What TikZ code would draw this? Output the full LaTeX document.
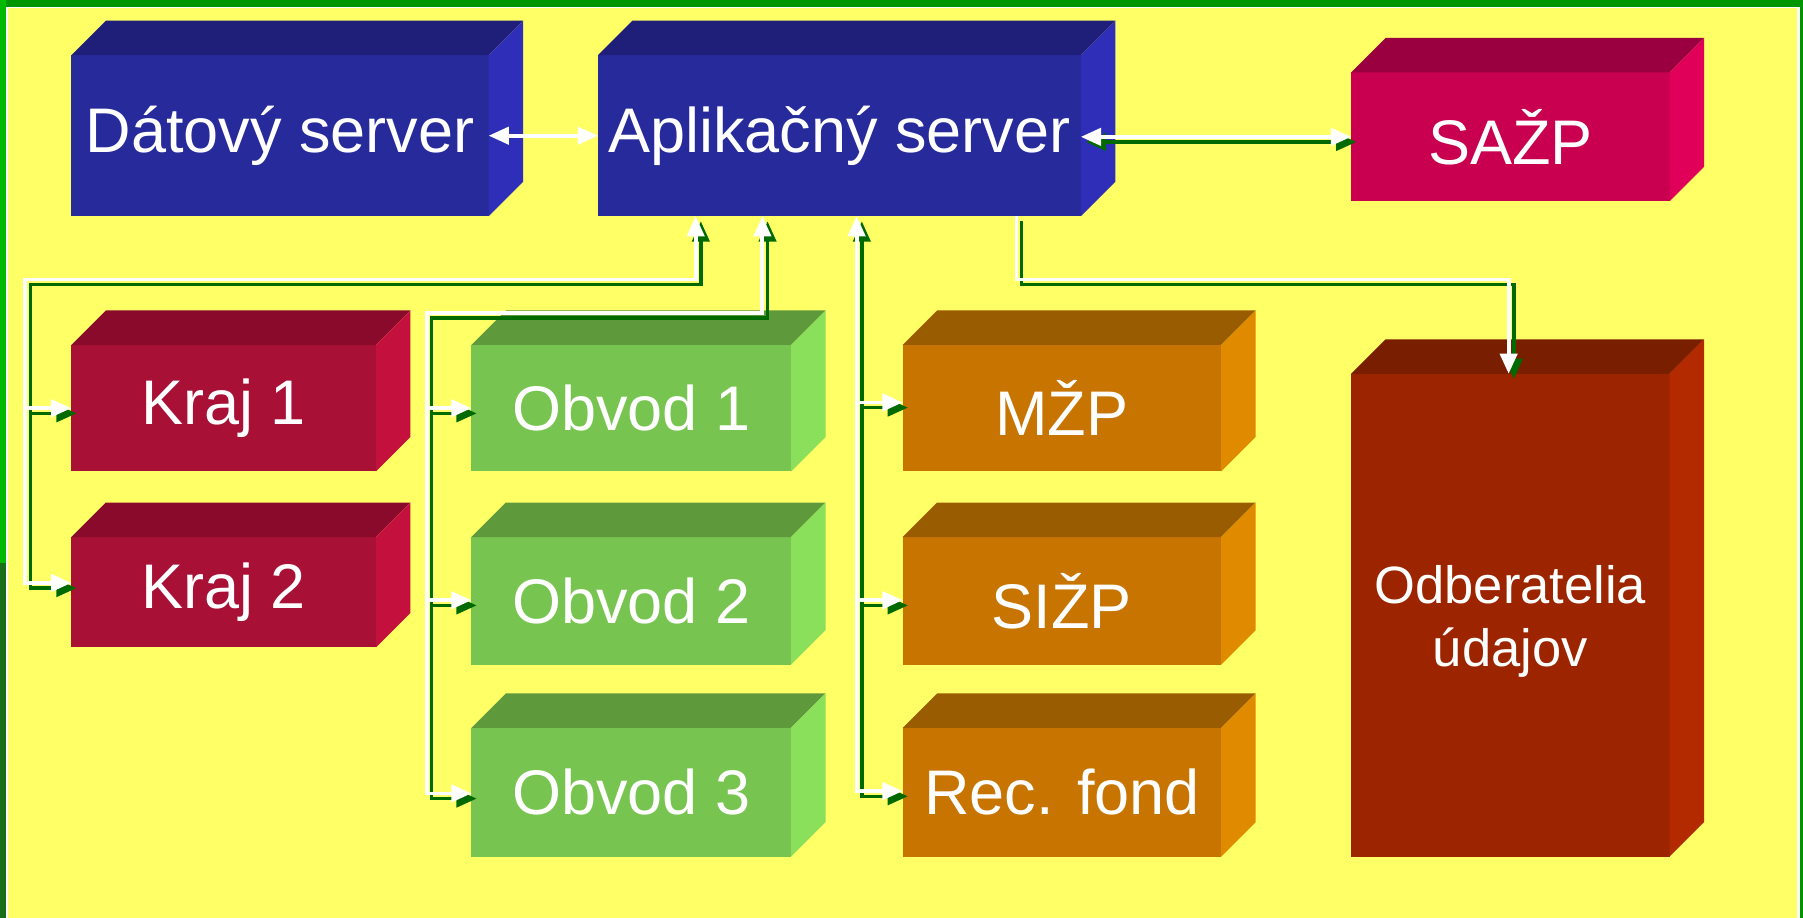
\documentclass[tikz,border=0pt]{standalone}
\usepackage{fontspec}
\setmainfont{Liberation Sans}
\usetikzlibrary{arrows.meta}

\definecolor{paper}{RGB}{255,255,102}
\definecolor{frameA}{RGB}{0,150,0}
\definecolor{frameB}{RGB}{0,185,0}
\definecolor{frameC}{RGB}{25,110,25}
\definecolor{wiregreen}{RGB}{0,105,0}

\definecolor{blueF}{RGB}{38,42,154}
\definecolor{blueT}{RGB}{31,31,122}
\definecolor{blueS}{RGB}{46,46,184}
\definecolor{krajF}{RGB}{168,16,54}
\definecolor{krajT}{RGB}{137,10,43}
\definecolor{krajS}{RGB}{195,16,60}
\definecolor{sazpF}{RGB}{200,0,79}
\definecolor{sazpT}{RGB}{154,0,64}
\definecolor{sazpS}{RGB}{224,0,90}
\definecolor{obvF}{RGB}{120,196,80}
\definecolor{obvT}{RGB}{94,154,60}
\definecolor{obvS}{RGB}{138,224,90}
\definecolor{orgF}{RGB}{200,116,0}
\definecolor{orgT}{RGB}{154,92,0}
\definecolor{orgS}{RGB}{224,138,0}
\definecolor{odbF}{RGB}{156,37,0}
\definecolor{odbT}{RGB}{122,30,0}
\definecolor{odbS}{RGB}{179,42,0}

% top and side faces of a box
\newcommand\faces[3]{%
  \fill[#2] (#1.north west) -- ++(30,-30) -- ([shift={(30,-30)}]#1.north east) -- (#1.north east) -- cycle;
  \fill[#3] (#1.north east) -- ++(30,-30) -- ([shift={(30,-30)}]#1.south east) -- (#1.south east) -- cycle;}

% white line with green shadow
\newcommand\wire[2]{\draw[wireshadow,#1] #2; \draw[wirelight,#1] #2;}

\begin{document}
\begin{tikzpicture}[x=0.02cm, y=-0.02cm,
  box/.style={inner sep=0pt, outer sep=0pt, text=white, align=center,
    font=\fontsize{31.2}{36}\selectfont},
  wirelight/.style={draw=white, line width=1.9pt},
  wireshadow/.style={draw=wiregreen, line width=1.7pt,
    transform canvas={xshift=0.09cm, yshift=-0.09cm}},
  >={Triangle[length=10pt, width=8.5pt]}]

\useasboundingbox (0,0) rectangle (1568,798);

% frame
\fill[frameA] (0,0) rectangle (1568,798);
\fill[frameB] (0,0) rectangle (5,490);
\fill[frameC] (0,490) rectangle (5,798);
\fill[white] (5,6) rectangle (1565,798);
\fill[paper] (7,7) rectangle (1563,798);

% servers
\node[box, fill=blueF, minimum width=7.26cm, minimum height=2.8cm] (dat) at (243.5,118) {Dátový server};
\node[box, fill=blueF, minimum width=8.4cm, minimum height=2.8cm] (app) at (730,118) {Aplikačný server};
\node[box, fill=sazpF, minimum width=5.54cm, minimum height=2.24cm] (sazp) at (1313.5,119) {SAŽP};
\faces{dat}{blueT}{blueS}
\faces{app}{blueT}{blueS}
\faces{sazp}{sazpT}{sazpS}

% kraje
\node[box, fill=krajF, minimum width=5.3cm, minimum height=2.2cm] (kraj1) at (194.5,355) {Kraj 1};
\node[box, fill=krajF, minimum width=5.3cm, minimum height=1.92cm] (kraj2) at (194.5,515) {Kraj 2};
\faces{kraj1}{krajT}{krajS}
\faces{kraj2}{krajT}{krajS}

% obvody
\node[box, fill=obvF, minimum width=5.56cm, minimum height=2.2cm] (obv1) at (549,355) {Obvod 1};
\node[box, fill=obvF, minimum width=5.56cm, minimum height=2.22cm] (obv2) at (549,522.5) {Obvod 2};
\node[box, fill=obvF, minimum width=5.56cm, minimum height=2.24cm] (obv3) at (549,689) {Obvod 3};
\faces{obv1}{obvT}{obvS}
\faces{obv2}{obvT}{obvS}
\faces{obv3}{obvT}{obvS}

% ministerstvo a ine
\node[box, fill=orgF, minimum width=5.54cm, minimum height=2.2cm] (mzp) at (923.5,355) {MŽP};
\node[box, fill=orgF, minimum width=5.54cm, minimum height=2.22cm] (sizp) at (923.5,522.5) {SIŽP};
\node[box, fill=orgF, minimum width=5.54cm, minimum height=2.24cm] (rec) at (923.5,689) {Rec. fond};
\faces{mzp}{orgT}{orgS}
\faces{sizp}{orgT}{orgS}
\faces{rec}{orgT}{orgS}

\node[box, fill=odbF, minimum width=5.54cm, minimum height=8.4cm,
  text height=1.45cm, text depth=0.75cm,
  font=\fontsize{26}{31}\selectfont] (odb) at (1313.5,535)
  {\begin{tabular}{@{}c@{}}Odberatelia\\údajov\end{tabular}};
\faces{odb}{odbT}{odbS}

% connectors
\coordinate (kA) at (605,243);
\coordinate (kB) at (22,355);
\coordinate (kC) at (22,507);
\coordinate (oA) at (663,272);
\coordinate (oB) at (371,355);
\coordinate (oC) at (371,522);
\coordinate (oD) at (371,690);
\coordinate (mA) at (745,688);
\coordinate (mB) at (745,350);
\coordinate (mC) at (745,522);
\coordinate (dA) at (884,243);
\coordinate (dB) at (1312,243);

\draw[wirelight, <->] (dat.east) -- (app.west);
\wire{<->}{(app.east |- sazp.west) -- (sazp.west)}

\wire{<->}{(app.south -| kA) -- (kA) -| (kC) -- (kC -| kraj2.west)}
\wire{->}{(kB) -- (kB -| kraj1.west)}

\wire{<->}{(app.south -| oA) -- (oA) -| (oD) -- (oD -| obv3.west)}
\wire{->}{(oB) -- (oB -| obv1.west)}
\wire{->}{(oC) -- (oC -| obv2.west)}

\wire{<->}{(app.south -| mA) -- (mA) -- (mA -| rec.west)}
\wire{->}{(mB) -- (mB -| mzp.west)}
\wire{->}{(mC) -- (mC -| sizp.west)}

\wire{->}{(app.south -| dA) -- (dA) -- (dB) -- (dB |- odb.north)}

\end{tikzpicture}
\end{document}
